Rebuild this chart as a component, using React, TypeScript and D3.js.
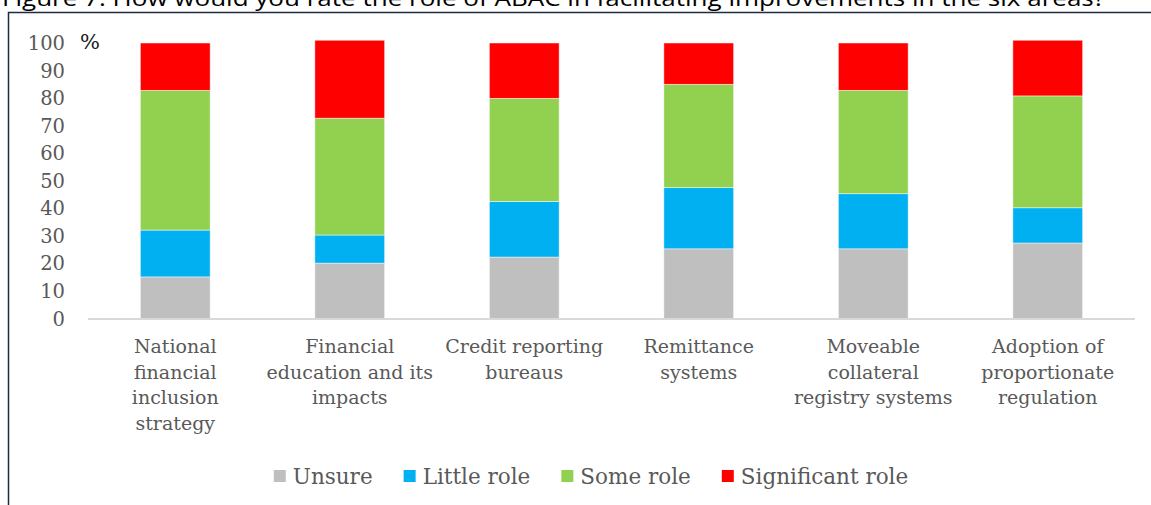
import React, { useEffect, useRef } from "react"
import * as d3 from "d3"

const categories = [
    "National financial inclusion strategy",
    "Financial education and its impacts",
    "Credit reporting bureaus",
    "Remittance systems",
    "Moveable collateral registry systems",
    "Adoption of proportionate regulation",
]
const categoryLines = [
    ["National", "financial", "inclusion", "strategy"],
    ["Financial", "education and its", "impacts"],
    ["Credit reporting", "bureaus"],
    ["Remittance", "systems"],
    ["Moveable", "collateral", "registry systems"],
    ["Adoption of", "proportionate", "regulation"],
]
const seriesNames = ["Unsure", "Little role", "Some role", "Significant role"]
const seriesColors = ["#bfbfbf", "#00b0f0", "#92d050", "#ff0000"]
const unsure = [15.1, 20.1, 22.3, 25.3, 25.3, 27.4]
const littleRole = [17.0, 10.2, 20.2, 22.2, 20.0, 12.8]
const someRole = [50.7, 42.4, 37.4, 37.5, 37.5, 40.6]
const significantRole = [17.2, 28.3, 20.1, 15.0, 17.2, 20.2]
const yTicks = [0, 10, 20, 30, 40, 50, 60, 70, 80, 90, 100]
const title =
    "Figure 7: How would you rate the role of ABAC in facilitating improvements in the six areas?"

const App = () => {
    const chartRef = useRef<SVGSVGElement | null>(null)

    useEffect(() => {
        const svg = d3.select(chartRef.current)
        svg.selectAll("*").remove()

        const W = 1151
        const H = 505
        const serif = "'DejaVu Serif', serif"
        const textGray = "#595959"

        // title, clipped by the top of the picture as in the source
        svg.append("text")
            .attr("x", 2)
            .attr("y", 6)
            .attr("font-family", "'Open Sans', sans-serif")
            .attr("font-size", 22)
            .attr("fill", "#000")
            .attr("textLength", 1103)
            .attr("lengthAdjust", "spacingAndGlyphs")
            .text(title)

        // frame
        svg.append("path")
            .attr("d", `M8.5,${H} L8.5,12.5 L${W},12.5`)
            .attr("fill", "none")
            .attr("stroke", "#1f2a44")
            .attr("stroke-width", 1.5)

        const left = 88
        const right = 1135
        const x = d3
            .scaleBand()
            .domain(categories)
            .range([left, right])
            .paddingInner(0.6)
            .paddingOuter(0.3)
        const y = d3.scaleLinear().domain([0, 100]).range([318.5, 43])

        const rows = categories.map((c, i) => ({
            cat: c,
            Unsure: unsure[i],
            "Little role": littleRole[i],
            "Some role": someRole[i],
            "Significant role": significantRole[i],
        }))
        const stack = d3.stack<any>().keys(seriesNames)(rows)

        const g = svg.append("g")
        stack.forEach((layer, li) => {
            g.append("g")
                .selectAll("rect")
                .data(layer)
                .enter()
                .append("rect")
                .attr("x", (d: any) => x(d.data.cat)!)
                .attr("y", (d) => y(d[1]))
                .attr("width", x.bandwidth())
                .attr("height", (d) => y(d[0]) - y(d[1]))
                .attr("fill", seriesColors[li])
                .attr("stroke", "#ffffff")
                .attr("stroke-opacity", 0.6)
                .attr("stroke-width", 0.8)
        })

        // axis line
        svg.append("line")
            .attr("x1", left)
            .attr("x2", right)
            .attr("y1", y(0) + 0.5)
            .attr("y2", y(0) + 0.5)
            .attr("stroke", "#d9d9d9")
            .attr("stroke-width", 2)

        // y tick labels
        svg.append("g")
            .selectAll("text")
            .data(yTicks)
            .enter()
            .append("text")
            .attr("x", 65)
            .attr("y", (d) => y(d))
            .attr("dy", "0.36em")
            .attr("text-anchor", "end")
            .attr("font-family", serif)
            .attr("font-size", 19.5)
            .attr("fill", textGray)
            .text((d) => d)

        svg.append("text")
            .attr("x", 80)
            .attr("y", 49)
            .attr("font-family", serif)
            .attr("font-size", 21)
            .attr("fill", "#1a1a1a")
            .text("%")

        // category labels
        categories.forEach((c, i) => {
            const cx = x(c)! + x.bandwidth() / 2
            const t = svg
                .append("text")
                .attr("text-anchor", "middle")
                .attr("font-family", serif)
                .attr("font-size", 19)
                .attr("fill", textGray)
            categoryLines[i].forEach((line, li) => {
                t.append("tspan")
                    .attr("x", cx)
                    .attr("y", 353 + li * 25.5)
                    .text(line)
            })
        })

        // legend
        const legend = svg.append("g")
        let lx = 0
        seriesNames.forEach((name, i) => {
            const item = legend.append("g").attr("transform", `translate(${lx},0)`)
            item.append("rect")
                .attr("x", 0)
                .attr("y", 470)
                .attr("width", 12)
                .attr("height", 12)
                .attr("fill", seriesColors[i])
            const t = item
                .append("text")
                .attr("x", 19)
                .attr("y", 484)
                .attr("font-family", serif)
                .attr("font-size", 21.5)
                .attr("fill", textGray)
                .text(name)
            const w = (t.node() as SVGTextElement).getComputedTextLength()
            lx += 19 + w + 31
        })
        const total = lx - 31
        legend.attr("transform", `translate(${591 - total / 2},0)`)
    }, [])

    return (
        <div style={{ position: "absolute", left: 0, top: 0, background: "#fff" }}>
            <svg ref={chartRef} width={1151} height={505} style={{ display: "block" }} />
        </div>
    )
}

export default App
